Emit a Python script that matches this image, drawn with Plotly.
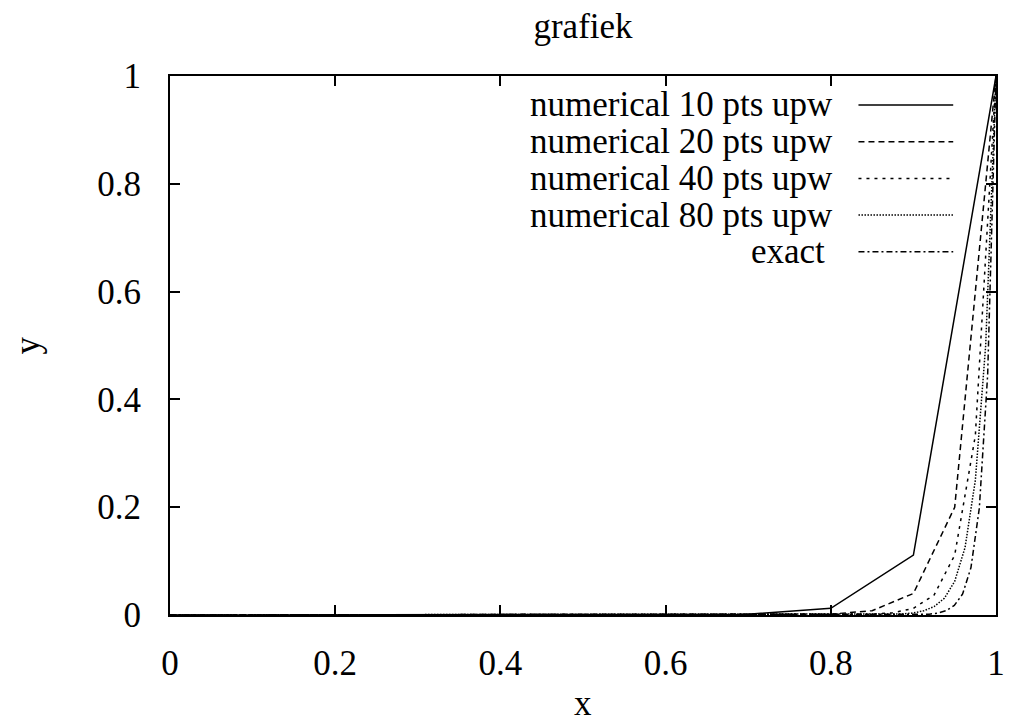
import plotly.graph_objects as go

# ---- data ----
x10 = [0.0, 0.1, 0.2, 0.3, 0.4, 0.5, 0.6, 0.7, 0.8, 0.9, 1.0]
y10 = [0.0, 0.0, 0.0, 0.0, 0.0, 0.0, 0.0, 0.0014, 0.0123, 0.111, 1.0]

x20 = [0.0, 0.75, 0.8, 0.85, 0.9, 0.95, 1.0]
y20 = [0.0, 0.0003, 0.0016, 0.008, 0.04, 0.2, 1.0]

x40 = [0.0, 0.85, 0.875, 0.9, 0.925, 0.95, 0.975, 1.0]
y40 = [0.0, 0.0014, 0.0041, 0.0123, 0.037, 0.111, 0.333, 1.0]

x80 = [0.0, 0.8875, 0.9, 0.9125, 0.925, 0.9375, 0.95, 0.9625, 0.975, 0.9875, 1.0]
y80 = [0.0, 0.002, 0.0039, 0.0078, 0.0156, 0.031, 0.0625, 0.125, 0.25, 0.5, 1.0]

xex = [0.0, 0.899, 0.9091, 0.9192, 0.9293, 0.9394, 0.9495, 0.9596, 0.9697, 0.9798, 0.9899, 1.0]
yex = [0.0, 0.0003, 0.0007, 0.0016, 0.0035, 0.0079, 0.0176, 0.039, 0.088, 0.198, 0.446, 1.0]

names = ["numerical 10 pts upw", "numerical 20 pts upw", "numerical 40 pts upw",
         "numerical 80 pts upw", "exact"]
dashes = ["solid", "6px,4px", "3px,5px", "1.5px,1.5px", "6px,3px,2px,3px"]
series = [(x10, y10), (x20, y20), (x40, y40), (x80, y80), (xex, yex)]

FONT = "Liberation Serif"
FS = 35

fig = go.Figure()
for (xs, ys), nm, d in zip(series, names, dashes):
    fig.add_trace(go.Scatter(x=xs, y=ys, mode="lines", name=nm, showlegend=False,
                             line=dict(color="black", width=1.5, dash=d)))

# manual gnuplot-style key (text right-aligned, sample on the right)
key_y = [0.9462, 0.8781, 0.8100, 0.7419, 0.6738]
key_right = [0.8048, 0.8048, 0.8048, 0.8048, 0.7960]
for nm, d, ky, kr in zip(names, dashes, key_y, key_right):
    fig.add_annotation(text=nm, xref="paper", yref="paper", x=kr, y=ky,
                       xanchor="right", yanchor="middle", showarrow=False,
                       font=dict(family=FONT, size=FS, color="black"))
    fig.add_shape(type="line", xref="paper", yref="paper", x0=0.8335, x1=0.9482,
                  y0=ky, y1=ky, line=dict(color="black", width=1.5, dash=d))

fig.add_annotation(text="x", xref="paper", yref="paper", x=0.5, y=-0.1651,
                   xanchor="center", yanchor="middle", showarrow=False,
                   font=dict(family=FONT, size=FS, color="black"))
fig.add_annotation(text="y", xref="paper", yref="paper", x=-0.172, y=0.5,
                   xanchor="center", yanchor="middle", showarrow=False, textangle=-90,
                   font=dict(family=FONT, size=FS, color="black"))

axis_common = dict(range=[0, 1], dtick=0.2, tick0=0, ticks="inside", ticklen=10,
                   tickwidth=1.5, tickcolor="black", showline=True, linewidth=2,
                   linecolor="black", mirror="ticks", showgrid=False, zeroline=False,
                   tickfont=dict(family=FONT, size=FS, color="black"))

# page body has an 8px default margin: figure is 8px smaller so it fits the window
fig.update_layout(
    width=1007, height=717,
    margin=dict(l=162, r=10, t=68, b=110),
    paper_bgcolor="white", plot_bgcolor="white",
    title=dict(text="grafiek", x=0.5, xref="paper", y=1 - 17.5 / 717, yref="container",
               xanchor="center", yanchor="middle",
               font=dict(family=FONT, size=FS, color="black")),
    xaxis=dict(**axis_common, ticklabelstandoff=16),
    yaxis=dict(**axis_common, ticklabelstandoff=20),
)

fig.write_html("out.html")
